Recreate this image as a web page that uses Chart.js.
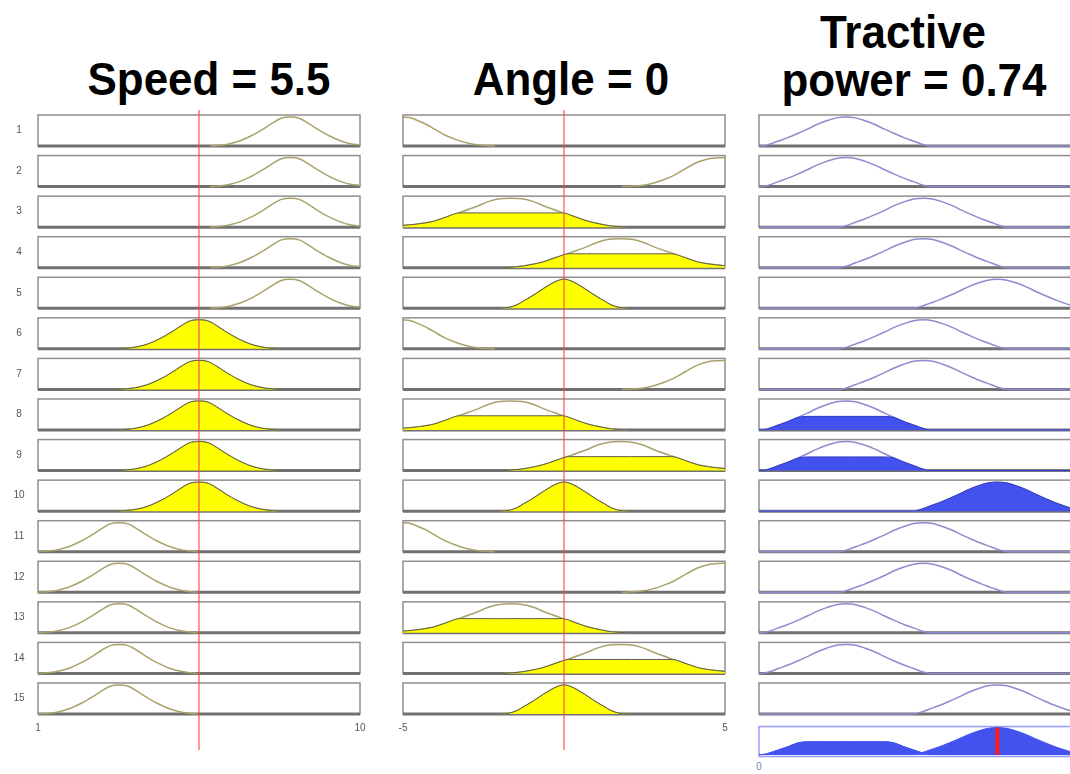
<!DOCTYPE html>
<html lang="en">
<head>
<meta charset="UTF-8" />
<title>Rule viewer</title>
<script src="https://cdn.jsdelivr.net/npm/chart.js"></script>
<style>
  html, body { margin: 0; padding: 0; background: #fff; width: 1070px; height: 774px; overflow: hidden; position: relative; }
  canvas { position: absolute; left: 0; top: 0; }
  .title {
    position: absolute; width: 400px; text-align: center; white-space: nowrap;
    font-family: "Liberation Sans", Arial, sans-serif; font-weight: bold;
    font-size: 46px; line-height: 46px; color: #000; transform: scaleX(0.955);
  }
</style>
</head>
<body>
<script>
// ---- inputs / output
const speedInput = 5.5;
const angleInput = 0;
const powerOutput = 0.74;

// ---- membership functions, [x, degree] points
const speedLow = [[1,0],[1.26,0.02],[1.59,0.08],[1.87,0.18],[2.21,0.37],[2.52,0.59],[2.77,0.79],[3.0,0.95],[3.27,1],[3.54,0.95],[3.77,0.79],[4.02,0.59],[4.33,0.37],[4.67,0.18],[4.95,0.08],[5.28,0.02],[5.45,0]];
const speedMed = [[3.26,0],[3.49,0.02],[3.82,0.08],[4.1,0.18],[4.44,0.37],[4.75,0.59],[5.0,0.79],[5.23,0.95],[5.5,1],[5.77,0.95],[6.0,0.79],[6.25,0.59],[6.56,0.37],[6.9,0.18],[7.18,0.08],[7.51,0.02],[7.74,0]];
const speedHigh = [[5.81,0],[6.04,0.02],[6.37,0.08],[6.65,0.18],[6.99,0.37],[7.3,0.59],[7.55,0.79],[7.78,0.95],[8.05,1],[8.32,0.95],[8.55,0.79],[8.8,0.59],[9.11,0.37],[9.45,0.18],[9.73,0.08],[10,0.04]];

const angleNB = [[-5,1],[-4.8,0.98],[-4.55,0.88],[-4.3,0.76],[-4.05,0.6],[-3.7,0.38],[-3.35,0.22],[-3.0,0.1],[-2.7,0.04],[-2.15,0]];
const angleN = [[-5,0.06],[-4.6,0.1],[-4.05,0.2],[-3.65,0.35],[-3.25,0.5],[-2.7,0.72],[-2.35,0.88],[-2.0,0.98],[-1.65,1],[-1.3,0.98],[-0.95,0.88],[-0.6,0.72],[-0.05,0.5],[0.35,0.35],[0.75,0.2],[1.15,0.1],[1.45,0.04],[1.95,0]];
const angleZ = [[-2.0,0],[-1.7,0.03],[-1.45,0.12],[-1.27,0.24],[-1.05,0.38],[-0.84,0.53],[-0.43,0.82],[-0.15,0.97],[0,1],[0.15,0.97],[0.43,0.82],[0.84,0.53],[1.05,0.38],[1.27,0.24],[1.45,0.12],[1.7,0.03],[2.0,0]];
const angleP = [[-1.9,0],[-1.4,0.04],[-1.05,0.1],[-0.65,0.2],[-0.25,0.35],[0.15,0.5],[0.7,0.72],[1.05,0.88],[1.4,0.98],[1.75,1],[2.1,0.98],[2.45,0.88],[2.8,0.72],[3.35,0.5],[3.75,0.35],[4.15,0.2],[4.7,0.1],[5,0.07]];
const anglePB = [[1.8,0],[2.4,0.04],[2.7,0.1],[3.05,0.22],[3.4,0.38],[3.75,0.6],[4.0,0.76],[4.25,0.88],[4.5,0.96],[4.8,0.99],[5,1]];

const powerLow = [[0,0],[0.01,0],[0.03,0.05],[0.06,0.17],[0.09,0.29],[0.12,0.43],[0.15,0.58],[0.18,0.74],[0.21,0.87],[0.24,0.97],[0.27,1],[0.3,0.97],[0.33,0.87],[0.36,0.74],[0.39,0.58],[0.42,0.43],[0.45,0.29],[0.48,0.17],[0.51,0.05],[0.53,0],[1,0]];
const powerMed = [[0,0],[0.25,0],[0.27,0.05],[0.3,0.17],[0.33,0.29],[0.36,0.43],[0.39,0.58],[0.42,0.74],[0.45,0.87],[0.48,0.97],[0.51,1],[0.54,0.97],[0.57,0.87],[0.6,0.74],[0.63,0.58],[0.66,0.43],[0.69,0.29],[0.72,0.17],[0.75,0.05],[0.77,0],[1,0]];
const powerHigh = [[0,0],[0.48,0],[0.5,0.05],[0.53,0.17],[0.56,0.29],[0.59,0.43],[0.62,0.58],[0.65,0.74],[0.68,0.87],[0.71,0.97],[0.74,1],[0.77,0.97],[0.8,0.87],[0.83,0.74],[0.86,0.58],[0.89,0.43],[0.92,0.29],[0.95,0.17],[0.98,0.07],[1,0.03]];

// ---- the 15 rules
const ruleSpeed = [speedHigh, speedHigh, speedHigh, speedHigh, speedHigh,
                   speedMed, speedMed, speedMed, speedMed, speedMed,
                   speedLow, speedLow, speedLow, speedLow, speedLow];
const ruleAngle = [angleNB, anglePB, angleN, angleP, angleZ,
                   angleNB, anglePB, angleN, angleP, angleZ,
                   angleNB, anglePB, angleN, angleP, angleZ];
const rulePower = [powerLow, powerLow, powerMed, powerMed, powerHigh,
                   powerMed, powerMed, powerLow, powerLow, powerHigh,
                   powerMed, powerMed, powerLow, powerLow, powerHigh];

// degree of each rule's clipped (filled) area
const speedDegree = [0, 0, 0, 0, 0, 1, 1, 1, 1, 1, 0, 0, 0, 0, 0];
const angleDegree = [0, 0, 0.49, 0.48, 1, 0, 0, 0.49, 0.48, 1, 0, 0, 0.49, 0.48, 1];
const powerDegree = [0, 0, 0, 0, 0, 0, 0, 0.47, 0.47, 1, 0, 0, 0, 0, 0];

const speedTicks = [1, 10];
const angleTicks = [-5, 5];
const powerTicks = [0];

// ---- layout (page pixels)
const PX_PER_UNIT = 29;     // height of membership 0..1
const ROW_PITCH = 40.57;
const FIRST_BASE = 146;     // baseline of rule 1
const BOX_UNITS = 31 / PX_PER_UNIT;
const AGG_SCALE = 27 / 29;
const CANVAS_W = 1100, CANVAS_H = 774;
const AREA_TOP = 110, AREA_BOTTOM = 760, RED_BOTTOM = 750;
const toUnits = (py) => (FIRST_BASE - py) / PX_PER_UNIT;
const rowBase = (i) => -i * ROW_PITCH / PX_PER_UNIT;

// titles
[
  { text: "Speed = " + speedInput, cx: 209, top: 56 },
  { text: "Angle = " + angleInput, cx: 571, top: 56 },
  { text: "Tractive", cx: 903, top: 9 },
  { text: "power = " + powerOutput, cx: 914, top: 57 },
].forEach((t) => {
  const d = document.createElement("div");
  d.className = "title";
  d.textContent = t.text;
  d.style.left = t.cx - 200 + "px";
  d.style.top = t.top + "px";
  document.body.appendChild(d);
});

const boxPlugin = {
  id: "ruleBoxes",
  beforeDatasetsDraw(chart, args, o) {
    const { ctx, chartArea: a, scales: { y } } = chart;
    ctx.save();
    for (let i = 0; i < 15; i++) {
      const b = y.getPixelForValue(rowBase(i));
      const t = y.getPixelForValue(rowBase(i) + BOX_UNITS);
      ctx.strokeStyle = "#8f8f8f";
      ctx.lineWidth = 1.5;
      ctx.strokeRect(a.left, t, a.right - a.left, b - t);
      ctx.strokeStyle = "#707070";
      ctx.lineWidth = 3;
      ctx.beginPath();
      ctx.moveTo(a.left, b);
      ctx.lineTo(a.right, b);
      ctx.stroke();
    }
    if (o.aggregate) {
      const b = y.getPixelForValue(rowBase(15)) + 2;
      const t = y.getPixelForValue(rowBase(15) + AGG_SCALE) - 1;
      ctx.strokeStyle = "#9a9aff";
      ctx.lineWidth = 1.5;
      ctx.strokeRect(a.left, t, a.right - a.left, b - t);
    }
    ctx.restore();
  },
  afterDatasetsDraw(chart, args, o) {
    const { ctx, scales: { x, y } } = chart;
    ctx.save();
    ctx.font = '10px "Liberation Sans", Arial, sans-serif';
    ctx.textAlign = "center";
    ctx.textBaseline = "middle";
    ctx.fillStyle = "#555";
    if (o.rowLabels) {
      for (let i = 0; i < 15; i++) {
        ctx.fillText(String(i + 1), 19, y.getPixelForValue(rowBase(i) + BOX_UNITS / 2));
      }
    }
    ctx.fillStyle = o.tickColor;
    o.ticks.forEach((v) => {
      ctx.fillText(String(v), x.getPixelForValue(v), y.getPixelForValue(rowBase(o.tickRow)) + o.tickGap);
    });
    ctx.restore();
  },
};

function makeColumn(cfg) {
  const canvas = document.createElement("canvas");
  canvas.width = CANVAS_W;
  canvas.height = CANVAS_H;
  document.body.appendChild(canvas);

  const datasets = [];
  const curve = (pts, base, level, scale) =>
    pts.map((p) => ({ x: p[0], y: base + Math.min(p[1], level) * scale }));

  cfg.mfs.forEach((mf, i) => {
    const base = rowBase(i);
    datasets.push({
      data: curve(mf, base, 1, 1),
      borderColor: cfg.lineColor,
      borderWidth: 1.5,
      fill: false,
      order: 2,
    });
    if (cfg.degrees[i] > 0) {
      datasets.push({
        data: curve(mf, base, cfg.degrees[i], 1),
        borderColor: cfg.edgeColor,
        borderWidth: 1,
        backgroundColor: cfg.fillColor,
        fill: { value: base },
        order: 1,
      });
      if (cfg.aggregate) {
        const aggBase = rowBase(15);
        datasets.push({
          data: curve(mf, aggBase, cfg.degrees[i], AGG_SCALE),
          borderColor: cfg.fillColor,
          borderWidth: 1,
          backgroundColor: cfg.fillColor,
          fill: { value: aggBase },
          order: 1,
        });
      }
    }
  });

  if (cfg.input !== undefined) {
    datasets.push({
      data: [{ x: cfg.input, y: toUnits(AREA_TOP) }, { x: cfg.input, y: toUnits(RED_BOTTOM) }],
      borderColor: "rgba(255,70,70,0.75)",
      borderWidth: 1.5,
      fill: false,
      order: 0,
    });
  }
  if (cfg.aggregate) {
    datasets.push({
      data: [{ x: powerOutput, y: rowBase(15) }, { x: powerOutput, y: rowBase(15) + AGG_SCALE }],
      borderColor: "#ff1a1a",
      borderWidth: 4,
      fill: false,
      order: 0,
    });
  }

  new Chart(canvas.getContext("2d"), {
    type: "line",
    data: { datasets },
    plugins: [boxPlugin],
    options: {
      responsive: false,
      animation: false,
      events: [],
      devicePixelRatio: 1,
      layout: {
        padding: { left: cfg.left, right: CANVAS_W - cfg.right, top: AREA_TOP, bottom: CANVAS_H - AREA_BOTTOM },
      },
      elements: {
        point: { radius: 0 },
        line: { cubicInterpolationMode: "monotone" },
      },
      scales: {
        x: { type: "linear", min: cfg.min, max: cfg.max, display: false },
        y: { type: "linear", min: toUnits(AREA_BOTTOM), max: toUnits(AREA_TOP), display: false },
      },
      plugins: {
        legend: { display: false },
        tooltip: { enabled: false },
        ruleBoxes: {
          rowLabels: cfg.rowLabels,
          aggregate: cfg.aggregate,
          ticks: cfg.ticks,
          tickRow: cfg.aggregate ? 15 : 14,
          tickGap: cfg.aggregate ? 13 : 14,
          tickColor: cfg.tickColor,
        },
      },
    },
  });
}

// Speed column
makeColumn({
  mfs: ruleSpeed, degrees: speedDegree, input: speedInput,
  min: 1, max: 10, left: 38, right: 360, ticks: speedTicks,
  lineColor: "#aaa26c", edgeColor: "#5e5e4a", fillColor: "#ffff00",
  rowLabels: true, aggregate: false, tickColor: "#555",
});

// Angle column
makeColumn({
  mfs: ruleAngle, degrees: angleDegree, input: angleInput,
  min: -5, max: 5, left: 403, right: 725, ticks: angleTicks,
  lineColor: "#aaa26c", edgeColor: "#5e5e4a", fillColor: "#ffff00",
  rowLabels: false, aggregate: false, tickColor: "#555",
});

// Tractive power column
makeColumn({
  mfs: rulePower, degrees: powerDegree,
  min: 0, max: 1, left: 759, right: 1081, ticks: powerTicks,
  lineColor: "#8c8cd0", edgeColor: "#2f3cc0", fillColor: "#4352ef",
  rowLabels: false, aggregate: true, tickColor: "#7080c0",
});
</script>
</body>
</html>
